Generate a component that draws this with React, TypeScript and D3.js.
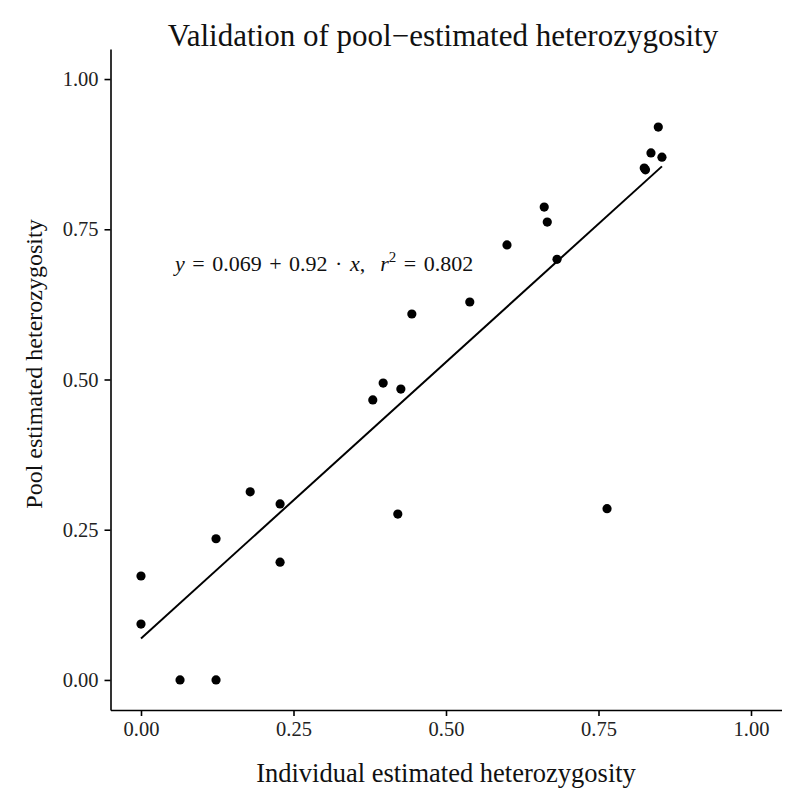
import React, { useEffect, useRef } from 'react';
import { axisBottom, axisLeft, scaleLinear, select } from 'd3';

// individual vs pool estimates
const individual = [
  0, 0, 0.064, 0.123, 0.123, 0.179, 0.228, 0.228, 0.38, 0.397, 0.426, 0.421,
  0.444, 0.539, 0.6, 0.661, 0.666, 0.682, 0.764, 0.825, 0.827, 0.836, 0.848,
  0.854,
];
const pool = [
  0.173, 0.093, 0, 0, 0.235, 0.313, 0.293, 0.196, 0.466, 0.494, 0.484, 0.276,
  0.609, 0.629, 0.724, 0.787, 0.762, 0.7, 0.285, 0.852, 0.849, 0.877, 0.92,
  0.87,
];
const ticks = [0, 0.25, 0.5, 0.75, 1];
const intercept = 0.069;
const slope = 0.92;
const rSquared = 0.802;

const FONT = '"Liberation Serif", "Times New Roman", serif';

const App = () => {
  const svgRef = useRef(null);

  useEffect(() => {
    const svg: any = select(svgRef.current);
    const x = scaleLinear().domain([-0.05, 1.05]).range([110.5, 781.5]);
    const y = scaleLinear().domain([-0.05, 1.05]).range([710, 49]);

    const xAxis = axisBottom(x)
      .tickValues(ticks)
      .tickFormat((d: any) => d.toFixed(2))
      .tickSizeInner(6)
      .tickSizeOuter(0)
      .tickPadding(5);
    const gx = svg.select('.x-axis').attr('transform', 'translate(0,710)').call(xAxis);
    gx.select('.domain').attr('stroke-width', 1.6);
    gx.selectAll('.tick line').attr('stroke-width', 1.6);
    gx.selectAll('text').attr('font-family', FONT).attr('font-size', 20.5).attr('fill', '#222');

    const yAxis = axisLeft(y)
      .tickValues(ticks)
      .tickFormat((d: any) => d.toFixed(2))
      .tickSizeInner(6)
      .tickSizeOuter(0)
      .tickPadding(6);
    const gy = svg.select('.y-axis').attr('transform', 'translate(110.5,0)').call(yAxis);
    gy.select('.domain').attr('stroke-width', 1.6);
    gy.selectAll('.tick line').attr('stroke-width', 1.6);
    gy.selectAll('text').attr('font-family', FONT).attr('font-size', 20.5).attr('fill', '#222');

    const x0 = Math.min(...individual);
    const x1 = Math.max(...individual);
    svg
      .select('.fit')
      .attr('x1', x(x0))
      .attr('y1', y(intercept + slope * x0))
      .attr('x2', x(x1))
      .attr('y2', y(intercept + slope * x1));

    svg
      .select('.points')
      .selectAll('circle')
      .data(individual.map((v, i) => [v, pool[i]]))
      .join('circle')
      .attr('cx', (d: number[]) => x(d[0]))
      .attr('cy', (d: number[]) => y(d[1]))
      .attr('r', 4.6)
      .attr('fill', '#000');
  }, []);

  return (
    <svg ref={svgRef} width={800} height={800} style={{ display: 'block', margin: -8 }}>
      <rect width={800} height={800} fill='#fff' />
      <text x={443} y={46} textAnchor='middle' fontFamily={FONT} fontSize={31} fill='#111'>
        Validation of pool−estimated heterozygosity
      </text>
      <g className='x-axis' />
      <g className='y-axis' />
      <line className='fit' stroke='#000' strokeWidth={2} />
      <g className='points' />
      <text
        x={175}
        y={271}
        fontFamily={FONT}
        fontSize={22}
        fill='#111'
        wordSpacing={2}
        style={{ whiteSpace: 'pre' }}
      >
        <tspan fontStyle='italic'>y</tspan>
        {' = ' + intercept + ' + ' + slope + ' · '}
        <tspan fontStyle='italic'>x</tspan>
        {',  '}
        <tspan fontStyle='italic'>r</tspan>
        <tspan dy={-9} fontSize={15}>2</tspan>
        <tspan dy={9}>{' = ' + rSquared}</tspan>
      </text>
      <text x={446} y={782} textAnchor='middle' fontFamily={FONT} fontSize={26.5} fill='#111'>
        Individual estimated heterozygosity
      </text>
      <text
        transform='translate(42,364) rotate(-90)'
        textAnchor='middle'
        fontFamily={FONT}
        fontSize={24}
        fill='#111'
      >
        Pool estimated heterozygosity
      </text>
    </svg>
  );
};

export default App;
